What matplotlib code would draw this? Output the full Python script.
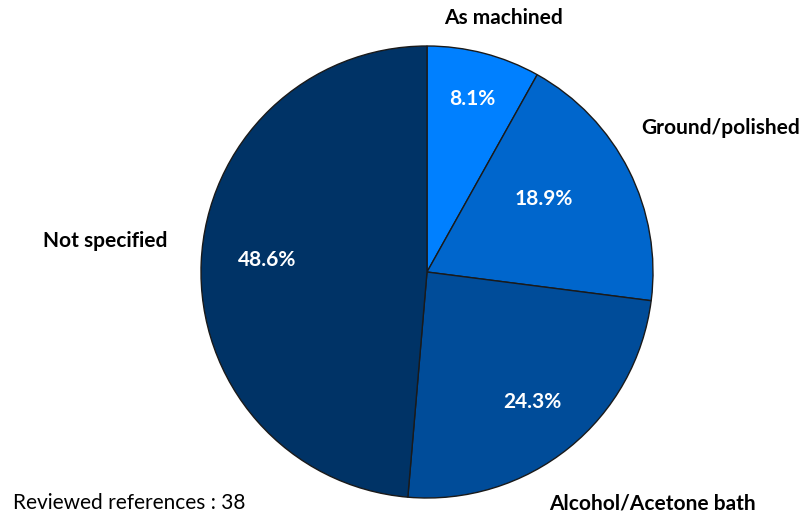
import matplotlib
matplotlib.use("Agg")
import matplotlib.pyplot as plt
import numpy as np

categories = ["As machined", "Ground/polished", "Alcohol/Acetone bath", "Not specified"]
shares = [8.1, 18.9, 24.3, 48.6]
colors = ["#0080FF", "#0066CC", "#004C99", "#003366"]
note = "Reviewed references : 38"

W, H = 807, 517
plt.rcParams["font.family"] = ["Lato", "DejaVu Sans"]

fig = plt.figure(figsize=(W / 100, H / 100), dpi=100)
ax = fig.add_axes([0, 0, 1, 1])

cx, cy, r = 427, H - 272, 226
wedges, _ = ax.pie(shares, colors=colors, startangle=90, counterclock=False,
                   center=(cx, cy), radius=r, frame=True,
                   wedgeprops=dict(edgecolor="#1a1a1a", linewidth=1.0))
ax.set_xlim(0, W)
ax.set_ylim(0, H)
ax.set_aspect("equal")
ax.axis("off")

# percentage labels placed along each wedge's bisector
pct_dist = [0.79, 0.61, 0.74, 0.71]
pct_shift = [0, 5, 0, -2]
for w, val, d, s in zip(wedges, shares, pct_dist, pct_shift):
    mid = np.deg2rad((w.theta1 + w.theta2) / 2 + s)
    ax.text(cx + d * r * np.cos(mid), cy + d * r * np.sin(mid), f"{val}%",
            ha="center", va="center", color="white", fontsize=15, fontweight="bold")

# category names outside the pie
name_pos = [(503, 18), (721, 128), (652, 503), (105, 241)]
for name, (x, y) in zip(categories, name_pos):
    ax.text(x, H - y, name, ha="center", va="center", color="black",
            fontsize=15, fontweight="bold")

ax.text(13, H - 503, note, ha="left", va="center", color="black", fontsize=15)

fig.savefig("out.png", dpi=100)
